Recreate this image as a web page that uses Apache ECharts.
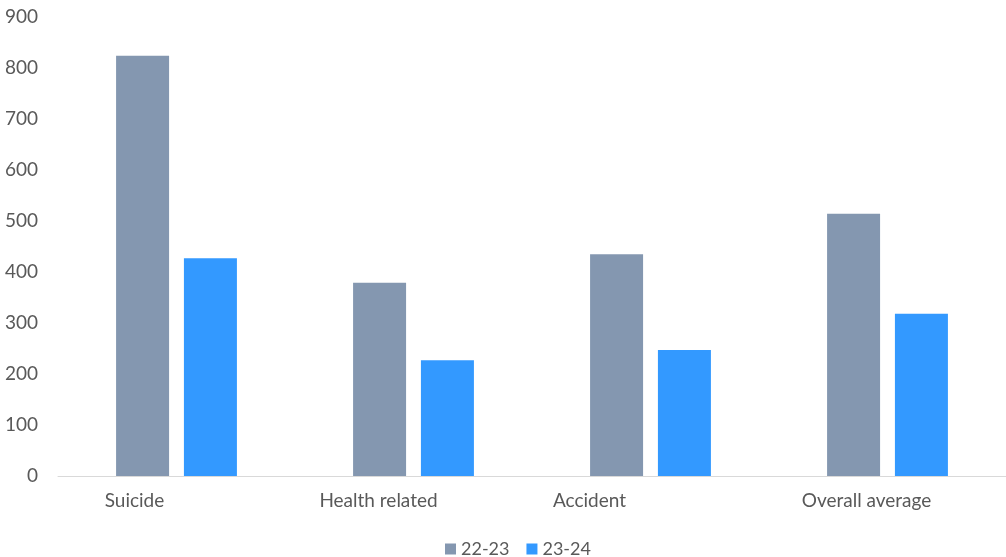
<!DOCTYPE html>
<html>
<head>
<meta charset="utf-8">
<script src="https://cdn.jsdelivr.net/npm/echarts@6/dist/echarts.min.js"></script>
<style>
  html, body { margin: 0; padding: 0; background: #ffffff; }
  #chart { width: 1006px; height: 557px; }
</style>
</head>
<body>
<div id="chart"></div>
<script>
// Causes of death, compared across two years
const categories = ['Suicide', 'Health related', 'Accident', 'Overall average'];
const series2223 = [824, 379, 435, 514];
const series2324 = [427, 227, 247, 318];
const yTicks = { min: 0, max: 900, interval: 100 };

// Horizontal nudge (px, leftwards) of each category label under its group
const labelShift = [42, 35, 61, 21];

const FONT = 'Lato, "Open Sans", sans-serif';
const chart = echarts.init(document.getElementById('chart'));

const rich = {};
labelShift.forEach((s, i) => {
  rich['c' + i] = {
    fontFamily: FONT, fontSize: 19, color: '#595959',
    padding: [0, s * 2, 0, 0]
  };
});

chart.setOption({
  backgroundColor: '#ffffff',
  animation: false,
  textStyle: { fontFamily: FONT },
  grid: { left: 58, right: 0, top: 17, bottom: 81, containLabel: false },
  legend: {
    top: 535,
    left: 440,
    itemWidth: 11,
    itemHeight: 11,
    itemGap: 17,
    icon: 'rect',
    textStyle: { fontFamily: FONT, fontSize: 18, color: '#595959' },
    data: ['22-23', '23-24']
  },
  xAxis: {
    type: 'category',
    data: categories,
    axisLine: { lineStyle: { color: '#d9d9d9', width: 1 } },
    axisTick: { show: false },
    axisLabel: {
      margin: 15,
      interval: 0,
      formatter: (v, i) => '{c' + i + '|' + v + '}',
      rich: rich
    }
  },
  yAxis: {
    type: 'value',
    min: yTicks.min,
    max: yTicks.max,
    interval: yTicks.interval,
    axisLine: { show: false },
    axisTick: { show: false },
    splitLine: { show: false },
    axisLabel: { fontFamily: FONT, fontSize: 19, color: '#595959', margin: 20 }
  },
  series: [
    {
      name: '22-23',
      type: 'bar',
      data: series2223,
      barWidth: 53,
      barGap: '28%',
      itemStyle: { color: '#8497b0' }
    },
    {
      name: '23-24',
      type: 'bar',
      data: series2324,
      barWidth: 53,
      itemStyle: { color: '#3399ff' }
    }
  ]
});
</script>
</body>
</html>
